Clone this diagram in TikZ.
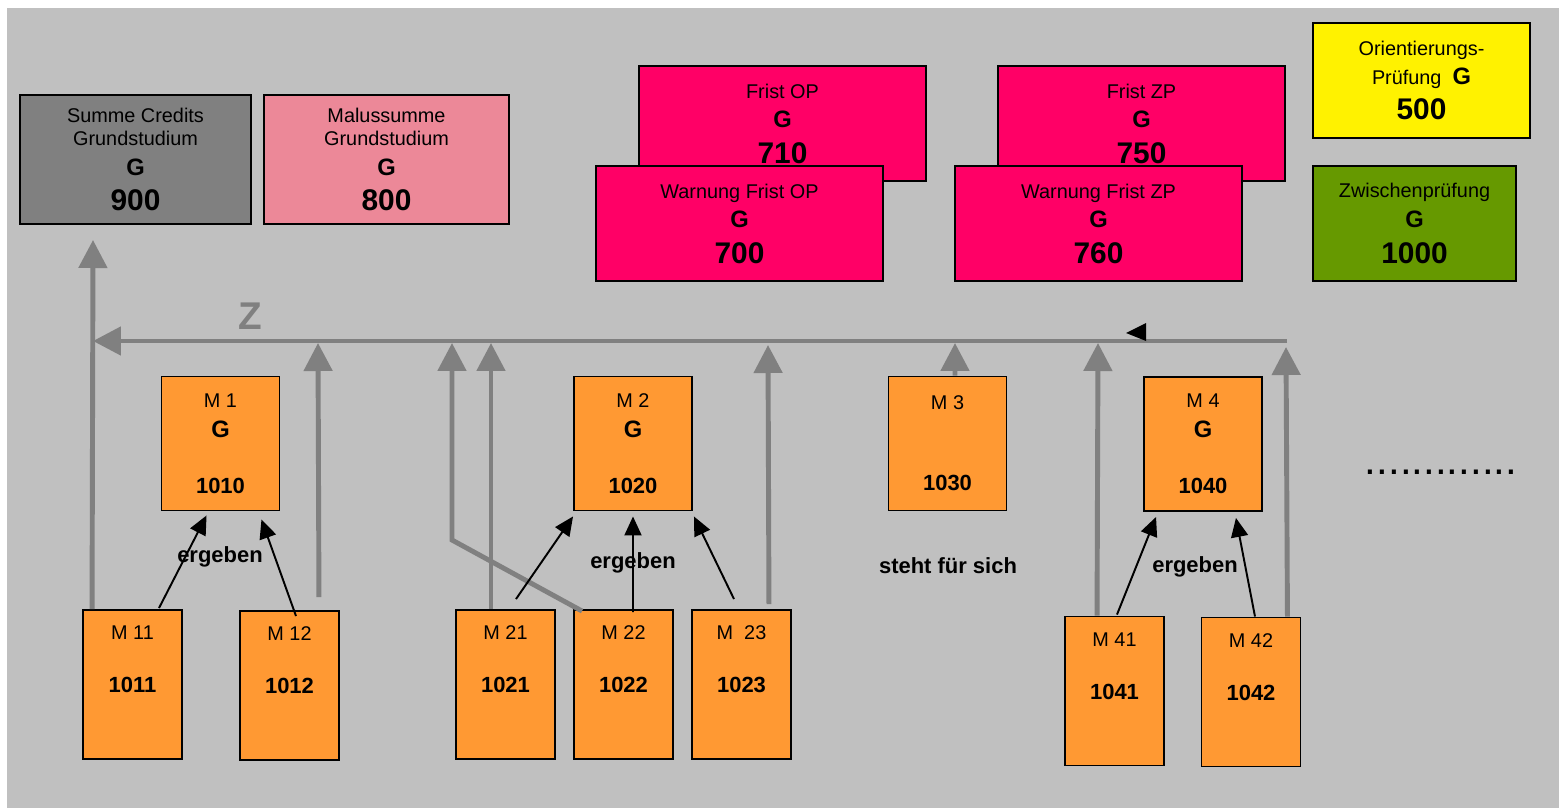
\documentclass[tikz,border=0pt]{standalone}
\usepackage{fontspec}
\setmainfont{Liberation Sans}
\usetikzlibrary{arrows.meta}

\definecolor{hintergrund}{RGB}{192,192,192}
\definecolor{summegrau}{RGB}{128,128,128}
\definecolor{malusrosa}{RGB}{236,136,152}
\definecolor{fristrot}{RGB}{255,0,102}
\definecolor{zpgruen}{RGB}{102,153,0}
\definecolor{modulorange}{RGB}{255,153,51}
\definecolor{zgrau}{RGB}{128,128,128}

\newcommand{\buchst}[1]{{\fontsize{13.5}{13.5}\selectfont\bfseries #1}}
\newcommand{\zahl}[1]{{\fontsize{17}{17}\selectfont\bfseries #1}}
\newcommand{\kleinzahl}[1]{{\fontsize{12.5}{12.5}\selectfont\bfseries #1}}

\tikzstyle{kasten} = [draw, line width=1.1pt, inner sep=0pt, align=center, font=\fontsize{11.3}{13.6}\selectfont]
\tikzstyle{grau} = [kasten, fill=summegrau, minimum width=4.62cm, minimum height=2.58cm]
\tikzstyle{malus} = [kasten, fill=malusrosa, minimum width=4.9cm, minimum height=2.58cm]
\tikzstyle{frist} = [kasten, fill=fristrot, minimum width=5.74cm, minimum height=2.3cm]
\tikzstyle{orient} = [kasten, fill=yellow, minimum width=4.34cm, minimum height=2.3cm]
\tikzstyle{zwischen} = [kasten, fill=zpgruen, minimum width=4.06cm, minimum height=2.3cm]
\tikzstyle{modul} = [kasten, fill=modulorange, minimum width=2.36cm, minimum height=2.68cm]
\tikzstyle{teilmodul} = [kasten, fill=modulorange, minimum width=1.98cm, minimum height=2.98cm]
\tikzstyle{zpfeil} = [draw=zgrau, line width=2.8pt, -{Triangle[length=0.56cm,width=0.56cm]}]
\tikzstyle{epfeil} = [draw, line width=1.1pt, -{Triangle[length=0.38cm,width=0.34cm]}]
\tikzstyle{beschr} = [font=\fontsize{12.5}{15}\selectfont\bfseries]

\begin{document}
\begin{tikzpicture}[x=0.02cm, y=-0.02cm]
    \useasboundingbox (0,0) rectangle (1559,808);
    \fill[hintergrund] (7,8) rectangle (1559,808);

    \draw (135.5,159.5) node[grau] (summe) {Summe Credits\\Grundstudium\\[3.4pt]\buchst{G}\\[6.4pt]\zahl{900}};
    \draw (386.5,159.5) node[malus] (malus) {Malussumme\\Grundstudium\\[3.4pt]\buchst{G}\\[6.4pt]\zahl{800}};
    \draw (782.5,123.5) node[frist] (fristop) {Frist OP\\[3pt]\buchst{G}\\[6.8pt]\zahl{710}};
    \draw (739.5,223.5) node[frist] (warnop) {Warnung Frist OP\\[3pt]\buchst{G}\\[6.8pt]\zahl{700}};
    \draw (1141.5,123.5) node[frist] (fristzp) {Frist ZP\\[3pt]\buchst{G}\\[6.8pt]\zahl{750}};
    \draw (1098.5,223.5) node[frist] (warnzp) {Warnung Frist ZP\\[3pt]\buchst{G}\\[6.8pt]\zahl{760}};
    \draw (1421.5,80.5) node[orient] (op) {Orientierungs-\\[2.8pt]Prüfung~~\buchst{G}\\[5pt]\zahl{500}};
    \draw (1414.5,223.5) node[zwischen] (zp) {Zwischenprüfung\\[3.4pt]\buchst{G}\\[6.6pt]\zahl{1000}};

    \draw (220.5,443.5) node[modul] (m1) {M 1\\[3.4pt]\buchst{G}\\[18.4pt]\kleinzahl{1010}};
    \draw (633,443.5) node[modul] (m2) {M 2\\[3.4pt]\buchst{G}\\[18.4pt]\kleinzahl{1020}};
    \draw (947.5,443.5) node[modul] (m3) {M 3\\[32.4pt]\kleinzahl{1030}};
    \draw (1203,444) node[modul] (m4) {M 4\\[3.4pt]\buchst{G}\\[18.4pt]\kleinzahl{1040}};

    \draw (132.5,684.5) node[teilmodul] (m11) {M 11\\[16.4pt]\kleinzahl{1011}\\[15pt]\mbox{}};
    \draw (289.5,685.5) node[teilmodul] (m12) {M 12\\[16.4pt]\kleinzahl{1012}\\[15pt]\mbox{}};
    \draw (505.5,684.5) node[teilmodul] (m21) {M 21\\[16.4pt]\kleinzahl{1021}\\[15pt]\mbox{}};
    \draw (623.5,684.5) node[teilmodul] (m22) {M 22\\[16.4pt]\kleinzahl{1022}\\[15pt]\mbox{}};
    \draw (741.5,684.5) node[teilmodul] (m23) {M\ \ 23\\[16.4pt]\kleinzahl{1023}\\[15pt]\mbox{}};
    \draw (1114.5,691) node[teilmodul] (m41) {M 41\\[16.4pt]\kleinzahl{1041}\\[15pt]\mbox{}};
    \draw (1251,692) node[teilmodul] (m42) {M 42\\[16.4pt]\kleinzahl{1042}\\[15pt]\mbox{}};

    \coordinate (zrechts) at (1287,341);
    \coordinate (zlinks) at (93,341);
    \coordinate (summepfeil) at (93,240);
    \coordinate (z12) at (318,343);
    \coordinate (knick) at (452,540);
    \coordinate (z22) at (452,343);
    \coordinate (z21) at (491,343);
    \coordinate (z23) at (768,345);
    \coordinate (z3) at (955,343);
    \coordinate (z41) at (1098,343);
    \coordinate (z42) at (1286,347);

    \draw[zpfeil] ([shift={(10,0)}]m11.north west) -- (summepfeil);
    \draw[zpfeil] (zrechts) -- (zlinks);
    \draw[zpfeil] ([shift={(-21,-13)}]m12.north east) -- (z12);
    \draw[zpfeil] ([shift={(9,2)}]m22.north west) -- (knick) -- (z22);
    \draw[zpfeil] ([shift={(-14.5,0)}]m21.north) -- (z21);
    \draw[zpfeil] ([shift={(-23,-5)}]m23.north east) -- (z23);
    \draw[zpfeil] ([shift={(7.5,0)}]m3.north) -- (z3);
    \draw[zpfeil] ([shift={(33,0)}]m41.north west) -- (z41);
    \draw[zpfeil] ([shift={(-14,0)}]m42.north east) -- (z42);
    \node[text=zgrau, font=\fontsize{22}{22}\selectfont\bfseries] (zlabel) at (250,316) {Z};
    \fill (1126,333) -- (1146,323) -- (1146,341) -- cycle;

    \draw[epfeil] ([shift={(26.5,-1)}]m11.north) -- ([shift={(46,4)}]m1.south west);
    \draw[epfeil] ([shift={(6.5,6)}]m12.north) -- ([shift={(-19,8)}]m1.south east);
    \draw[epfeil] ([shift={(10.5,-10)}]m21.north) -- ([shift={(0,5)}]m2.south west);
    \draw[epfeil] ([shift={(9.5,3)}]m22.north) -- ([shift={(0,5)}]m2.south);
    \draw[epfeil] ([shift={(-7.5,-10)}]m23.north) -- ([shift={(1,5)}]m2.south east);
    \draw[epfeil] ([shift={(2.5,-1)}]m41.north) -- ([shift={(13,5)}]m4.south west);
    \draw[epfeil] ([shift={(4,0)}]m42.north) -- ([shift={(-27,6)}]m4.south east);

    \node[beschr] (erg1) at (220,556.5) {ergeben};
    \node[beschr] (erg2) at (633,563) {ergeben};
    \node[beschr] (erg4) at (1195,566.5) {ergeben};
    \node[beschr] (solo) at (948,566) {steht für sich};
    \node[font=\fontsize{24}{24}\selectfont] (weiter) at (1441,472) {.............};
\end{tikzpicture}
\end{document}
